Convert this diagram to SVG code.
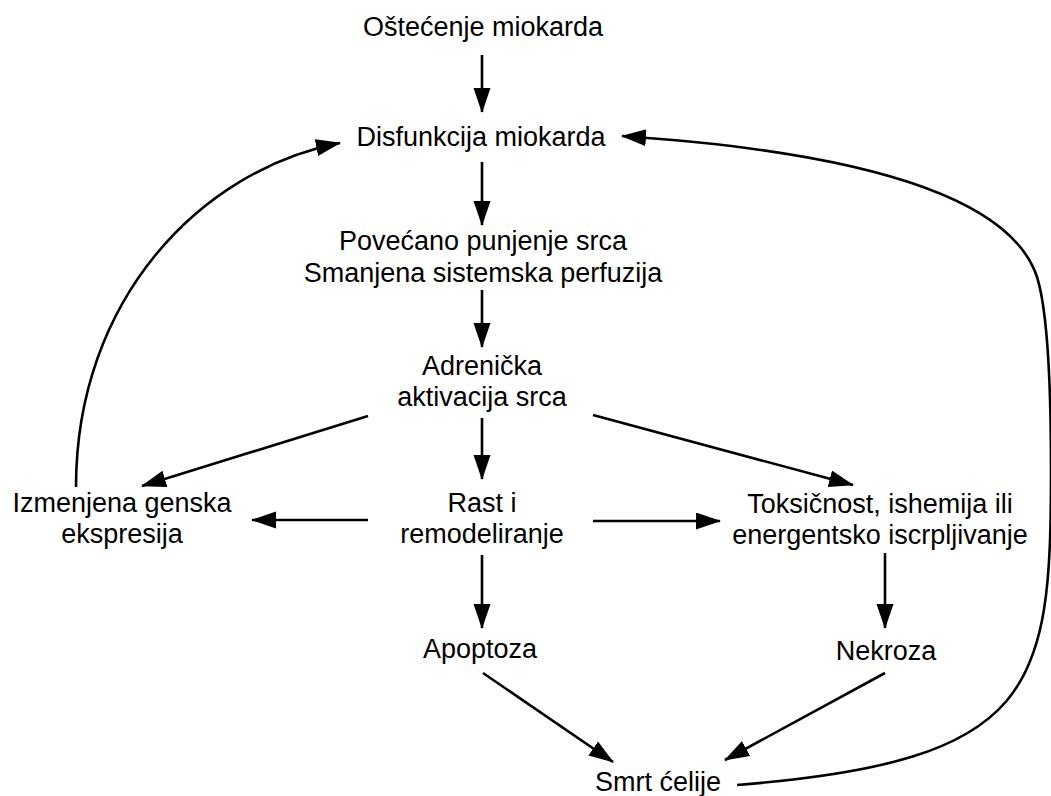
<svg xmlns="http://www.w3.org/2000/svg" width="1051" height="796" viewBox="0 0 1051 796">
  <style>
    text { font-family: "Liberation Sans", Arial, sans-serif; font-size: 27px; fill: #000; text-anchor: middle; }
    .edge { fill: none; stroke: #000; stroke-width: 2.6; marker-end: url(#arrow); }
  </style>
  <defs>
    <marker id="arrow" markerUnits="userSpaceOnUse" markerWidth="26" markerHeight="18" refX="24" refY="8.5" orient="auto">
      <path d="M0,0 L25,8.5 L0,17 Z" fill="#000"/>
    </marker>
  </defs>
  <rect width="1051" height="796" fill="#fff"/>

  <g id="ostecenje">
    <text x="483" y="36">Oštećenje miokarda</text>
  </g>
  <g id="disfunkcija">
    <text x="481" y="146">Disfunkcija miokarda</text>
  </g>
  <g id="punjenje">
    <text x="483" y="250">Povećano punjenje srca</text>
    <text x="483" y="282">Smanjena sistemska perfuzija</text>
  </g>
  <g id="adrenicka">
    <text x="482" y="375">Adrenička</text>
    <text x="482" y="406">aktivacija srca</text>
  </g>
  <g id="genska">
    <text x="122" y="512">Izmenjena genska</text>
    <text x="122" y="543">ekspresija</text>
  </g>
  <g id="rast">
    <text x="482" y="512">Rast i</text>
    <text x="482" y="543">remodeliranje</text>
  </g>
  <g id="toksicnost">
    <text x="880" y="513">Toksičnost, ishemija ili</text>
    <text x="880" y="544">energentsko iscrpljivanje</text>
  </g>
  <g id="apoptoza">
    <text x="480" y="658">Apoptoza</text>
  </g>
  <g id="nekroza">
    <text x="886" y="660">Nekroza</text>
  </g>
  <g id="smrt">
    <text x="658" y="791">Smrt ćelije</text>
  </g>

  <g id="connectors">
    <line class="edge" x1="482" y1="55" x2="482" y2="112"/>
    <line class="edge" x1="482" y1="162" x2="482" y2="225"/>
    <line class="edge" x1="482" y1="290" x2="482" y2="347"/>
    <line class="edge" x1="482" y1="418" x2="482" y2="479"/>
    <line class="edge" x1="368" y1="416" x2="142" y2="486"/>
    <line class="edge" x1="593" y1="415" x2="853" y2="485"/>
    <line class="edge" x1="368" y1="520" x2="252" y2="520"/>
    <line class="edge" x1="593" y1="521" x2="720" y2="521"/>
    <line class="edge" x1="482" y1="555" x2="482" y2="628"/>
    <line class="edge" x1="885" y1="553" x2="885" y2="628"/>
    <line class="edge" x1="483" y1="673" x2="613" y2="762"/>
    <line class="edge" x1="885" y1="673" x2="725" y2="760"/>
    <!-- feedback loop: gene expression back to dysfunction -->
    <path class="edge" d="M76,487 C76,300 200,170 340,143"/>
    <!-- feedback loop: cell death back to dysfunction -->
    <path class="edge" d="M737,785 C1037,761 1051,690 1051,470 C1051,400 1049,315 1037,277 C1009,192 845,151 622,136"/>
  </g>
</svg>
